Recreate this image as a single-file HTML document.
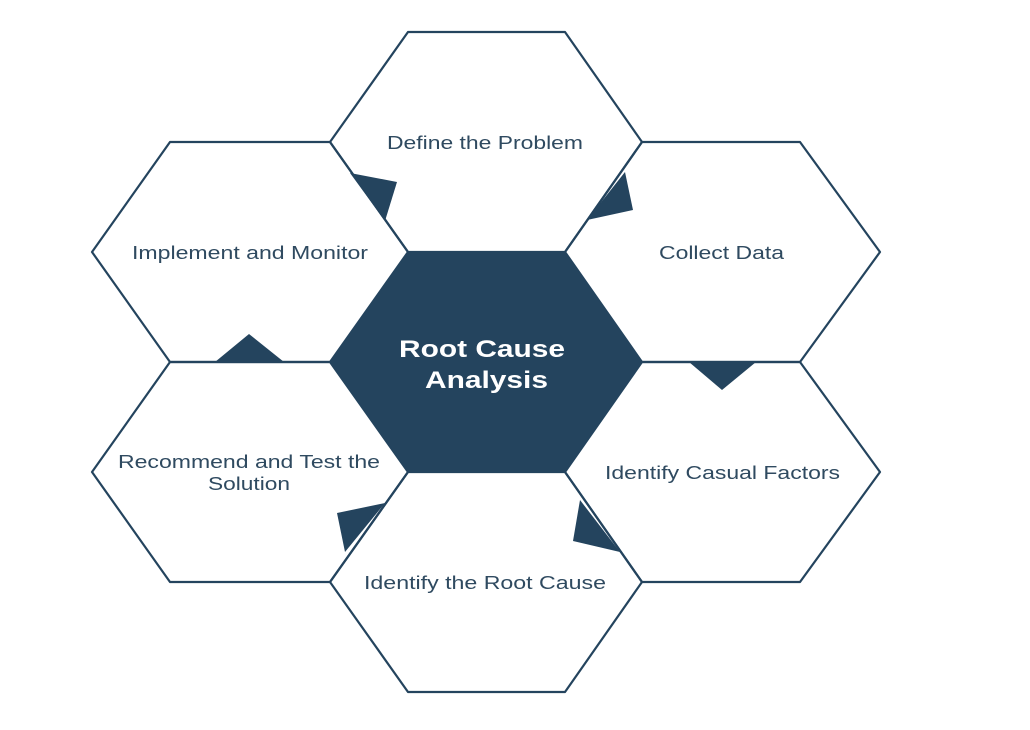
<!DOCTYPE html>
<html><head><style>
html,body{margin:0;padding:0;background:#fff;}
svg{display:block}
text{font-family:"Liberation Sans",sans-serif;fill:#2f4a60;font-size:18px}
</style></head><body>
<svg width="1030" height="730" viewBox="0 0 1030 730">
<g fill="none" stroke="#24445e" stroke-width="2.2" stroke-linejoin="round">
<polygon points="408,32 565,32 642,142 565,252 408,252 330,142"/>
<polygon points="170,142 330,142 408,252 330,362 170,362 92,252"/>
<polygon points="642,142 800,142 880,252 800,362 642,362 565,252"/>
<polygon points="642,362 800,362 880,472 800,582 642,582 565,472"/>
<polygon points="408,472 565,472 642,582 565,692 408,692 330,582"/>
<polygon points="170,362 330,362 408,472 330,582 170,582 92,472"/>
</g>
<polygon points="408,252 565,252 642,362 565,472 408,472 330,362" fill="#24445e"/>
<g fill="#24445e">
<polygon points="350,173 397,182 385,221"/>
<polygon points="625,172 633,210 587,220"/>
<polygon points="215,362 249,334 284,362"/>
<polygon points="689,362 756,362 722,390"/>
<polygon points="337,513 385,503 345,552"/>
<polygon points="580,500 620,552 573,541"/>
</g>
<g lengthAdjust="spacingAndGlyphs">
<text x="387" y="149" textLength="196" lengthAdjust="spacingAndGlyphs">Define the Problem</text>
<text x="132" y="259" textLength="236" lengthAdjust="spacingAndGlyphs">Implement and Monitor</text>
<text x="659" y="259" textLength="125" lengthAdjust="spacingAndGlyphs">Collect Data</text>
<text x="605" y="479" textLength="235" lengthAdjust="spacingAndGlyphs">Identify Casual Factors</text>
<text x="364" y="589" textLength="242" lengthAdjust="spacingAndGlyphs">Identify the Root Cause</text>
<text x="118" y="468" textLength="262" lengthAdjust="spacingAndGlyphs">Recommend and Test the</text>
<text x="208" y="490" textLength="82" lengthAdjust="spacingAndGlyphs">Solution</text>
<text x="399" y="357" textLength="166" lengthAdjust="spacingAndGlyphs" style="fill:#fff;font-weight:bold;font-size:24px">Root Cause</text>
<text x="425" y="388" textLength="123" lengthAdjust="spacingAndGlyphs" style="fill:#fff;font-weight:bold;font-size:24px">Analysis</text>
</g>
</svg>
</body></html>
